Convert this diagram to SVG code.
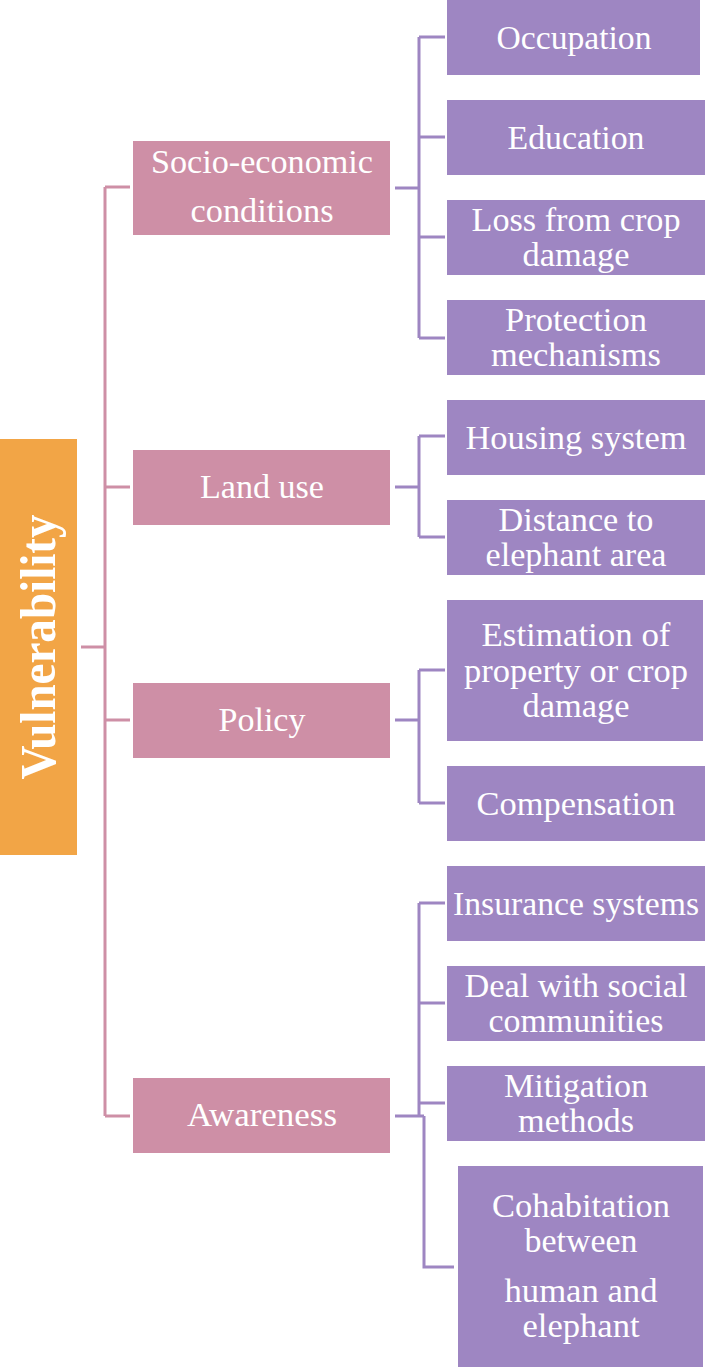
<svg xmlns="http://www.w3.org/2000/svg" width="706" height="1368" viewBox="0 0 706 1368">
<style>
.root{fill:#F2A546}
.l1{fill:#CE8FA6}
.l2{fill:#9E86C2}
text{font-family:"Liberation Serif","Times New Roman",serif;fill:#fff;text-anchor:middle}
.t{font-size:34px}
.tv{font-size:50px;font-weight:bold}
.cp{fill:none;stroke:#CE8FA6;stroke-width:3}
.cu{fill:none;stroke:#9E86C2;stroke-width:3}
</style>
<rect width="706" height="1368" fill="#fff"/>
<g id="connectors">
<path class="cp" d="M81 647H105M105 187V1116M105 187H130M105 487H130M105 720H130M105 1116H130"/>
<path class="cu" d="M395 188H419M419 37V338M419 37H445M419 137H445M419 237H445M419 338H445"/>
<path class="cu" d="M395 487H419M419 436V537M419 436H445M419 537H445"/>
<path class="cu" d="M395 720H419M419 670V803M419 670H445M419 803H445"/>
<path class="cu" d="M395 1116H424M419 903V1116M419 903H445M419 1003H445M419 1103H445M424 1116V1267H454"/>
</g>
<g id="vulnerability">
<rect class="root" x="0" y="439" width="77" height="416"/>
<text class="tv" transform="translate(55,647) rotate(-90)" textLength="265" lengthAdjust="spacingAndGlyphs">Vulnerability</text>
</g>
<g id="socio">
<rect class="l1" x="133" y="141" width="257" height="94"/>
<text class="t" x="262" y="173" textLength="222" lengthAdjust="spacingAndGlyphs">Socio-economic</text>
<text class="t" x="262" y="222" textLength="143" lengthAdjust="spacingAndGlyphs">conditions</text>
</g>
<g id="landuse">
<rect class="l1" x="133" y="450" width="257" height="75"/>
<text class="t" x="262" y="498" textLength="124" lengthAdjust="spacingAndGlyphs">Land use</text>
</g>
<g id="policy">
<rect class="l1" x="133" y="683" width="257" height="75"/>
<text class="t" x="262" y="731" textLength="87" lengthAdjust="spacingAndGlyphs">Policy</text>
</g>
<g id="awareness">
<rect class="l1" x="133" y="1078" width="257" height="75"/>
<text class="t" x="262" y="1126" textLength="150" lengthAdjust="spacingAndGlyphs">Awareness</text>
</g>
<g id="occupation">
<rect class="l2" x="447" y="0" width="253" height="75"/>
<text class="t" x="574" y="49" textLength="155" lengthAdjust="spacingAndGlyphs">Occupation</text>
</g>
<g id="education">
<rect class="l2" x="447" y="100" width="258" height="75"/>
<text class="t" x="576" y="149" textLength="137" lengthAdjust="spacingAndGlyphs">Education</text>
</g>
<g id="loss">
<rect class="l2" x="447" y="200" width="258" height="75"/>
<text class="t" x="576" y="231" textLength="209" lengthAdjust="spacingAndGlyphs">Loss from crop</text>
<text class="t" x="576" y="266" textLength="107" lengthAdjust="spacingAndGlyphs">damage</text>
</g>
<g id="protection">
<rect class="l2" x="447" y="300" width="258" height="75"/>
<text class="t" x="576" y="331" textLength="142" lengthAdjust="spacingAndGlyphs">Protection</text>
<text class="t" x="576" y="366" textLength="170" lengthAdjust="spacingAndGlyphs">mechanisms</text>
</g>
<g id="housing">
<rect class="l2" x="447" y="400" width="258" height="75"/>
<text class="t" x="576" y="449" textLength="221" lengthAdjust="spacingAndGlyphs">Housing system</text>
</g>
<g id="distance">
<rect class="l2" x="447" y="500" width="258" height="75"/>
<text class="t" x="576" y="531" textLength="155" lengthAdjust="spacingAndGlyphs">Distance to</text>
<text class="t" x="576" y="566" textLength="181" lengthAdjust="spacingAndGlyphs">elephant area</text>
</g>
<g id="estimation">
<rect class="l2" x="447" y="600" width="256" height="141"/>
<text class="t" x="576" y="646" textLength="189" lengthAdjust="spacingAndGlyphs">Estimation of</text>
<text class="t" x="576" y="682" textLength="224" lengthAdjust="spacingAndGlyphs">property or crop</text>
<text class="t" x="576" y="717" textLength="107" lengthAdjust="spacingAndGlyphs">damage</text>
</g>
<g id="compensation">
<rect class="l2" x="447" y="766" width="258" height="75"/>
<text class="t" x="576" y="815" textLength="199" lengthAdjust="spacingAndGlyphs">Compensation</text>
</g>
<g id="insurance">
<rect class="l2" x="447" y="866" width="258" height="75"/>
<text class="t" x="576" y="915" textLength="246" lengthAdjust="spacingAndGlyphs">Insurance systems</text>
</g>
<g id="deal">
<rect class="l2" x="447" y="966" width="258" height="75"/>
<text class="t" x="576" y="997" textLength="223" lengthAdjust="spacingAndGlyphs">Deal with social</text>
<text class="t" x="576" y="1032" textLength="175" lengthAdjust="spacingAndGlyphs">communities</text>
</g>
<g id="mitigation">
<rect class="l2" x="447" y="1066" width="258" height="75"/>
<text class="t" x="576" y="1097" textLength="144" lengthAdjust="spacingAndGlyphs">Mitigation</text>
<text class="t" x="576" y="1132" textLength="116" lengthAdjust="spacingAndGlyphs">methods</text>
</g>
<g id="cohabitation">
<rect class="l2" x="458" y="1166" width="245" height="201"/>
<text class="t" x="581" y="1217" textLength="178" lengthAdjust="spacingAndGlyphs">Cohabitation</text>
<text class="t" x="581" y="1252" textLength="113" lengthAdjust="spacingAndGlyphs">between</text>
<text class="t" x="581" y="1302" textLength="153" lengthAdjust="spacingAndGlyphs">human and</text>
<text class="t" x="581" y="1337" textLength="117" lengthAdjust="spacingAndGlyphs">elephant</text>
</g>
</svg>
